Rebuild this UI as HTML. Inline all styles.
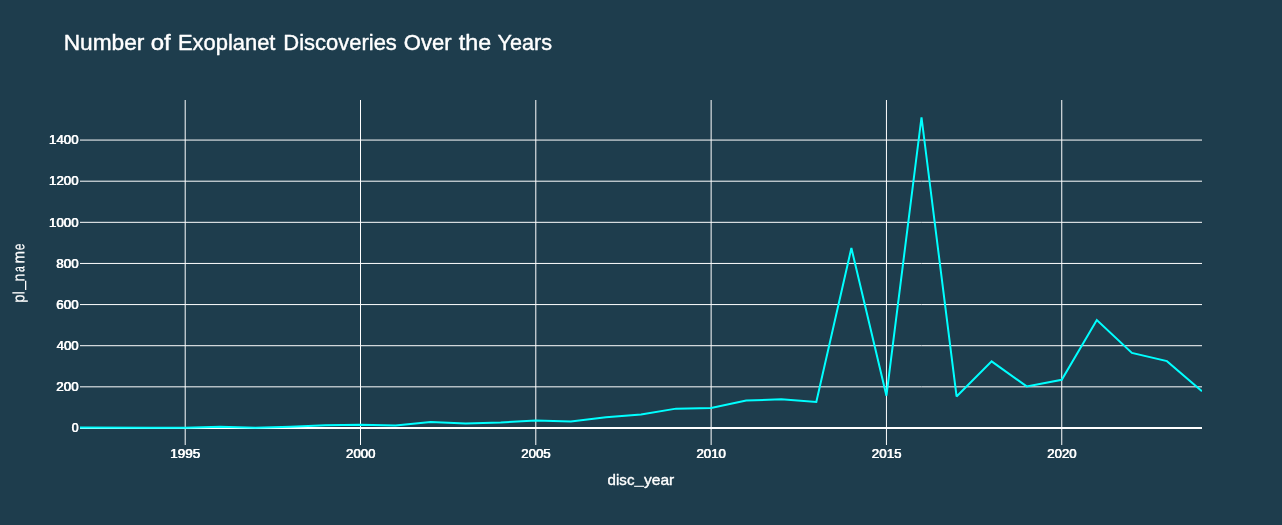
<!DOCTYPE html>
<html><head><meta charset="utf-8"><title>Number of Exoplanet Discoveries Over the Years</title>
<style>html,body{margin:0;padding:0;background:#1e3d4d;overflow:hidden}body{width:1282px;height:525px;font-family:"Liberation Sans",sans-serif}</style>
</head><body>
<svg width="1282" height="525" viewBox="0 0 1282 525" style="display:block;will-change:transform">
<rect x="0" y="0" width="1282" height="525" fill="#1e3d4d"/>
<g stroke="#ffffff" stroke-width="1" fill="none">
<path d="M185.188,100V445"/>
<path d="M360.500,100V445"/>
<path d="M535.812,100V445"/>
<path d="M711.125,100V445"/>
<path d="M886.438,100V445"/>
<path d="M1061.750,100V445"/>
<path d="M80,386.830H921.5M921.5,386.830H1202"/>
<path d="M80,345.704H921.5M921.5,345.704H1202"/>
<path d="M80,304.578H921.5M921.5,304.578H1202"/>
<path d="M80,263.452H921.5M921.5,263.452H1202"/>
<path d="M80,222.326H921.5M921.5,222.326H1202"/>
<path d="M80,181.201H921.5M921.5,181.201H1202"/>
<path d="M80,140.075H921.5M921.5,140.075H1202"/>
</g>
<path d="M80,427.956H1202" stroke="#ffffff" stroke-width="2" fill="none"/>
<clipPath id="c"><rect x="80" y="100" width="1122" height="345"/></clipPath>
<polyline clip-path="url(#c)" points="80.00,427.54 150.12,427.75 185.19,427.75 220.25,426.72 255.31,427.75 290.38,426.72 325.44,425.28 360.50,424.67 395.56,425.49 430.62,421.99 465.69,423.43 500.75,422.40 535.81,420.55 570.88,421.58 605.94,417.26 641.00,414.59 676.06,408.63 711.12,408.01 746.19,400.40 781.25,399.37 816.31,402.05 851.38,248.03 886.44,395.67 921.50,117.25 956.56,396.49 991.62,361.33 1026.69,386.42 1061.75,379.84 1096.81,320.00 1131.88,352.90 1166.94,361.13 1202.00,391.35" fill="none" stroke="#00ffff" stroke-width="2" stroke-linejoin="miter" stroke-miterlimit="2"/>
<g font-family="'Liberation Sans', sans-serif" fill="#ffffff" stroke="#ffffff" stroke-linejoin="round">
<text x="63.66" y="49.60" font-size="21.3" stroke-width="0.4" textLength="80.78" lengthAdjust="spacingAndGlyphs">Number</text>
<text x="150.70" y="49.60" font-size="21.3" stroke-width="0.4" textLength="20.05" lengthAdjust="spacingAndGlyphs">of</text>
<text x="177.95" y="49.60" font-size="21.3" stroke-width="0.4" textLength="97.51" lengthAdjust="spacingAndGlyphs">Exoplanet</text>
<text x="283.39" y="49.60" font-size="21.3" stroke-width="0.4" textLength="113.45" lengthAdjust="spacingAndGlyphs">Discoveries</text>
<text x="403.89" y="49.60" font-size="21.3" stroke-width="0.4" textLength="47.78" lengthAdjust="spacingAndGlyphs">Over</text>
<text x="458.78" y="49.60" font-size="21.3" stroke-width="0.4" textLength="32.38" lengthAdjust="spacingAndGlyphs">the</text>
<text x="497.47" y="49.60" font-size="21.3" stroke-width="0.4" textLength="54.50" lengthAdjust="spacingAndGlyphs">Years</text>
<text id="x_1995" x="170.11" y="458.00" font-size="12" stroke-width="0.15" textLength="29.91" lengthAdjust="spacingAndGlyphs">1995</text>
<use href="#x_1995" x="0.45"/>
<text id="x_2000" x="345.84" y="458.00" font-size="12" stroke-width="0.15" textLength="29.45" lengthAdjust="spacingAndGlyphs">2000</text>
<use href="#x_2000" x="0.45"/>
<text id="x_2005" x="521.05" y="458.00" font-size="12" stroke-width="0.15" textLength="29.41" lengthAdjust="spacingAndGlyphs">2005</text>
<use href="#x_2005" x="0.45"/>
<text id="x_2010" x="696.23" y="458.00" font-size="12" stroke-width="0.15" textLength="29.54" lengthAdjust="spacingAndGlyphs">2010</text>
<use href="#x_2010" x="0.45"/>
<text id="x_2015" x="871.64" y="458.00" font-size="12" stroke-width="0.15" textLength="29.72" lengthAdjust="spacingAndGlyphs">2015</text>
<use href="#x_2015" x="0.45"/>
<text id="x_2020" x="1047.12" y="458.00" font-size="12" stroke-width="0.15" textLength="29.20" lengthAdjust="spacingAndGlyphs">2020</text>
<use href="#x_2020" x="0.45"/>
<text id="y_0" x="71.51" y="432.16" font-size="12" stroke-width="0.15" textLength="6.87" lengthAdjust="spacingAndGlyphs">0</text>
<use href="#y_0" x="0.45"/>
<text id="y_200" x="56.13" y="391.03" font-size="12" stroke-width="0.15" textLength="22.22" lengthAdjust="spacingAndGlyphs">200</text>
<use href="#y_200" x="0.45"/>
<text id="y_400" x="56.41" y="349.90" font-size="12" stroke-width="0.15" textLength="22.06" lengthAdjust="spacingAndGlyphs">400</text>
<use href="#y_400" x="0.45"/>
<text id="y_600" x="56.13" y="308.78" font-size="12" stroke-width="0.15" textLength="22.23" lengthAdjust="spacingAndGlyphs">600</text>
<use href="#y_600" x="0.45"/>
<text id="y_800" x="56.14" y="267.65" font-size="12" stroke-width="0.15" textLength="22.32" lengthAdjust="spacingAndGlyphs">800</text>
<use href="#y_800" x="0.45"/>
<text id="y_1000" x="48.88" y="226.53" font-size="12" stroke-width="0.15" textLength="29.47" lengthAdjust="spacingAndGlyphs">1000</text>
<use href="#y_1000" x="0.45"/>
<text id="y_1200" x="48.88" y="185.40" font-size="12" stroke-width="0.15" textLength="29.47" lengthAdjust="spacingAndGlyphs">1200</text>
<use href="#y_1200" x="0.45"/>
<text id="y_1400" x="48.88" y="144.27" font-size="12" stroke-width="0.15" textLength="29.47" lengthAdjust="spacingAndGlyphs">1400</text>
<use href="#y_1400" x="0.45"/>
<text x="607.62" y="485.00" font-size="14.5" stroke-width="0.35" textLength="26.84" lengthAdjust="spacingAndGlyphs">disc</text>
<text x="643.99" y="485.00" font-size="14.5" stroke-width="0.35" textLength="30.33" lengthAdjust="spacingAndGlyphs">year</text>
<text transform="translate(24.30,296.89) rotate(-89.9)" x="-5.75" y="0.00" font-size="16.0" stroke-width="0.25" textLength="11.50" lengthAdjust="spacingAndGlyphs">pl</text>
<text transform="translate(24.30,280.64) rotate(-89.9)" x="-0.85" y="0.00" font-size="16.0" stroke-width="0.25" textLength="7.91" lengthAdjust="spacingAndGlyphs">n</text>
<text transform="translate(24.30,271.63) rotate(-89.9)" x="-0.42" y="0.00" font-size="16.0" stroke-width="0.25" textLength="5.78" lengthAdjust="spacingAndGlyphs">a</text>
<text transform="translate(24.30,262.68) rotate(-89.9)" x="-0.91" y="0.00" font-size="16.0" stroke-width="0.25" textLength="12.57" lengthAdjust="spacingAndGlyphs">m</text>
<text transform="translate(24.30,249.68) rotate(-89.9)" x="-0.48" y="0.00" font-size="16.0" stroke-width="0.25" textLength="6.62" lengthAdjust="spacingAndGlyphs">e</text>
</g>
<path d="M634.1,486.3H644.1" stroke="#ffffff" stroke-width="1.1" fill="none"/>
<path d="M25.65,289.9V280.7" stroke="#ffffff" stroke-width="1.3" fill="none"/>
</svg>
</body></html>
